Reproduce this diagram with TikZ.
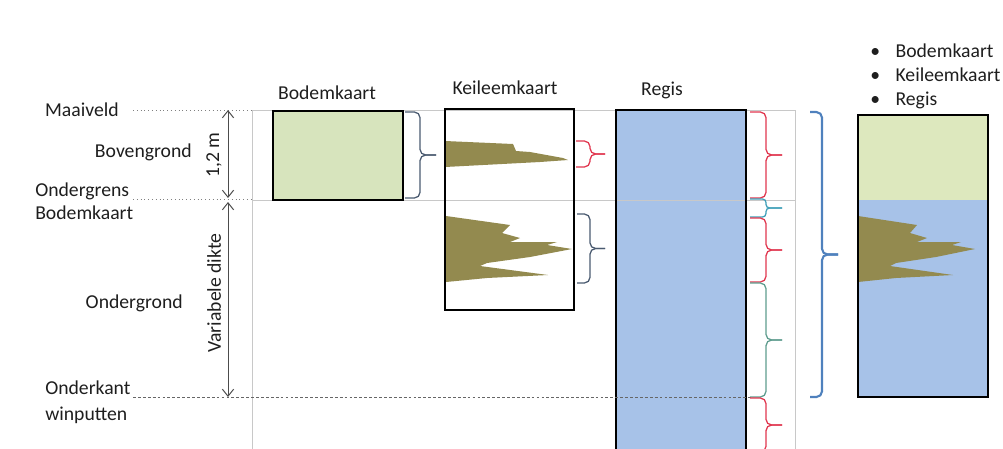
\documentclass[tikz,border=0pt]{standalone}
\usepackage{fontspec}
\setmainfont{Carlito}
\usetikzlibrary{arrows.meta}
\definecolor{soilgreen}{HTML}{D7E4BD}
\definecolor{soilgreenb}{HTML}{DDE8BE}
\definecolor{regisblue}{HTML}{A7C2E8}
\definecolor{clay}{HTML}{938A4F}
\definecolor{bred}{HTML}{E0364E}
\definecolor{bteal}{HTML}{3F9FB8}
\definecolor{bgreen}{HTML}{5E9C8E}
\definecolor{bgrey}{HTML}{4A5A70}
\definecolor{bblue}{HTML}{4F81BD}
\definecolor{gridgrey}{HTML}{C8C8C8}
\definecolor{txt}{HTML}{1E1E1E}
\newcommand{\mybrace}[6]{%
  \draw[bracestyle,#1] (#2,#3) -- ({#2+#5},#3) -- ({#2+#5},{(#3+#4)/2}) -- ({#2+#5+#6},{(#3+#4)/2});
  \draw[bracestyle,#1] (#2,#4) -- ({#2+#5},#4) -- ({#2+#5},{(#3+#4)/2}) -- ({#2+#5+#6},{(#3+#4)/2});
}
\begin{document}
\begin{tikzpicture}[x=0.025cm,y=-0.025cm,
  lbl/.style={font=\fontsize{14pt}{16.5pt}\selectfont, text=txt, inner sep=0pt},
  grid/.style={draw=gridgrey, line width=0.6pt},
  guide/.style={draw=gray, dotted, line width=0.7pt},
  boxline/.style={draw=black, line width=1.3pt},
  dim/.style={draw=black!70, line width=0.7pt, {Straight Barb[length=5pt,width=8pt]}-{Straight Barb[length=5pt,width=8pt]}},
  bracestyle/.style={line width=0.9pt, rounded corners=4pt}]
\useasboundingbox (0,0) rectangle (1003,448);
\clip (0,0) rectangle (1003,448);

% fills
\fill[soilgreen] (273,111) rectangle (403,200);
\fill[white] (445,109) rectangle (574,310);
\fill[clay] (445,141) -- (513,144) -- (516,151) -- (530,152) -- (563,158) -- (568,160) -- (540,162) -- (445,167) -- cycle;
\fill[clay] (446,216) -- (510,225) -- (502,233) -- (520,238) -- (510,242) -- (557,242) -- (547,245) -- (572,249) -- (530,257) -- (487,263) -- (480,266) -- (548,275) -- (487,278) -- (446,282) -- cycle;
\fill[regisblue] (616,110) rectangle (746,450);
\fill[soilgreenb] (858,115) rectangle (988,200);
\fill[regisblue] (858,200) rectangle (988,397);
\fill[clay] (858,216) -- (917,225) -- (910,233) -- (927,238) -- (917,242) -- (961,242) -- (952,245) -- (975,249) -- (936,257) -- (896,263) -- (890,266) -- (953,275) -- (896,278) -- (858,282) -- cycle;

% grid lines
\draw[grid] (252,110) -- (252,450);
\draw[grid] (795,110) -- (795,450);
\draw[grid] (252,110) -- (795,110);
\draw[grid] (252,200) -- (795,200);

% box borders
\draw[boxline] (273,111) rectangle (403,200);
\draw[boxline] (445,109) rectangle (574,310);
\draw[boxline] (616,452) -- (616,110) -- (746,110) -- (746,452);
\draw[boxline] (858,115) rectangle (988,397);

% guide lines
\draw[guide] (133,110) -- (252,110);
\draw[guide] (133,199) -- (252,199);
\draw[guide, draw=black!60, dashed, dash pattern=on 2pt off 1.5pt] (133,397) -- (753,397);

% dimension arrows
\coordinate (m1) at (228,110);
\coordinate (m2) at (228,198);
\coordinate (v1) at (228,202);
\coordinate (v2) at (228,397);
\draw[dim] (m1) -- (m2);
\draw[dim] (v1) -- (v2);
\node[lbl, rotate=90] (d12) at (214,155) {1,2 m};
\node[lbl, rotate=90] (dvar) at (214,293) {Variabele dikte};

% left labels
\node[lbl, anchor=east] (maai) at (119,110) {Maaiveld};
\node[lbl, anchor=east] (boven) at (192,152) {Bovengrond};
\node[lbl, anchor=west, align=left] (ondergr) at (35,201) {Ondergrens\\Bodemkaart};
\node[lbl, anchor=east] (onder) at (183,303) {Ondergrond};
\node[lbl, anchor=west, align=left] (winp) at (45,402) {Onderkant\\[2pt]winputten};

% headers
\node[lbl] (hbod) at (327,93) {Bodemkaart};
\node[lbl] (hkei) at (505,88) {Keileemkaart};
\node[lbl] (hreg) at (662,90) {Regis};
\node[lbl, anchor=north west, align=left] (list) at (870,41) {%
  \begin{tabular}{@{}l@{\hspace{11pt}}l@{}}
  \textbullet & Bodemkaart\\[0.5pt]
  \textbullet & Keileemkaart\\[0.5pt]
  \textbullet & Regis
  \end{tabular}};

% braces
\mybrace{draw=bgrey}{405}{112}{198}{15}{16}
\mybrace{draw=bred}{576}{141}{167}{14}{15}
\mybrace{draw=bgrey}{577}{214}{283}{13}{15}
\mybrace{draw=bred}{750}{112}{198}{16}{16}
\mybrace{draw=bteal, rounded corners=2.5pt}{750}{199}{217}{16}{16}
\mybrace{draw=bred}{750}{218}{282}{16}{16}
\mybrace{draw=bgreen}{750}{283}{397}{16}{16}
\mybrace{draw=bred}{750}{398}{452}{16}{16}
\mybrace{draw=bblue, line width=1.5pt}{810}{112}{397}{12}{16}
\end{tikzpicture}
\end{document}
